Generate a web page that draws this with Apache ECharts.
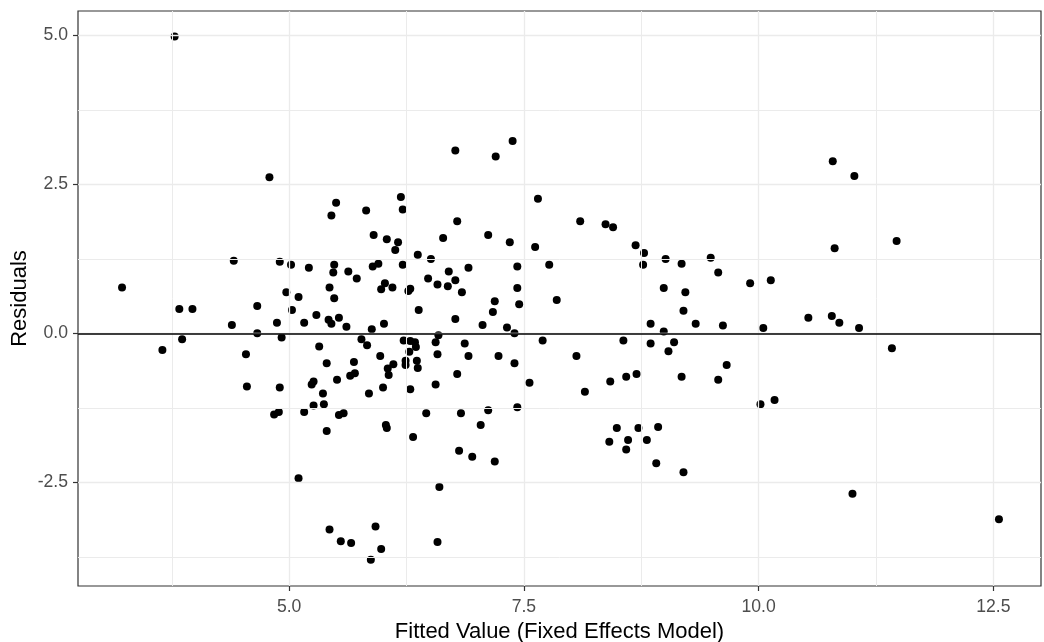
<!DOCTYPE html>
<html>
<head>
<meta charset="utf-8">
<script src="https://cdn.jsdelivr.net/npm/echarts@6/dist/echarts.min.js"></script>
<style>
  html, body { margin: 0; padding: 0; background: #ffffff; }
  #chart { width: 1044px; height: 642px; }
</style>
</head>
<body>
<div id="chart"></div>
<script>
// Fitted values from the fixed effects model and their residuals
const fitted = [
  3.78, 4.79, 4.41, 4.90, 5.02, 3.22, 4.97, 5.10, 3.83, 3.97,
  4.66, 5.03, 4.87, 4.39, 4.66, 4.92, 3.65, 3.86, 4.54, 4.55,
  4.90, 4.84, 4.89, 5.10, 5.50, 5.45, 5.82, 5.90, 6.04, 5.21,
  5.48, 5.47, 5.63, 5.72, 5.89, 5.95, 6.02, 5.98, 5.43, 5.48,
  5.29, 5.42, 5.45, 5.53, 5.61, 5.16, 5.88, 6.01, 5.32, 5.77,
  5.83, 5.40, 5.69, 5.97, 6.05, 6.06, 5.65, 5.70, 5.51, 5.26,
  5.24, 5.36, 5.85, 6.00, 5.26, 5.37, 5.16, 5.53, 5.58, 5.40,
  6.03, 6.04, 5.43, 5.55, 5.66, 5.92, 5.98, 5.87, 6.77, 7.20,
  7.38, 6.19, 6.21, 6.79, 7.65, 6.16, 6.13, 6.64, 7.12, 7.35,
  7.62, 6.37, 6.51, 6.21, 6.70, 6.91, 7.43, 6.48, 6.58, 6.69,
  6.77, 6.84, 6.10, 6.27, 6.29, 7.43, 7.19, 7.17, 7.45, 6.38,
  6.77, 7.06, 7.32, 7.40, 6.59, 6.56, 6.22, 6.29, 6.34, 6.35,
  6.28, 6.58, 6.87, 6.91, 7.23, 7.40, 6.11, 6.24, 6.24, 6.36,
  6.37, 6.79, 6.29, 6.56, 7.56, 6.46, 6.83, 7.12, 7.43, 7.04,
  6.32, 6.81, 6.95, 7.19, 6.60, 6.58, 8.10, 8.37, 8.45, 8.69,
  8.78, 7.77, 8.77, 9.01, 9.18, 9.49, 9.57, 8.99, 9.22, 7.85,
  9.20, 8.85, 9.33, 9.62, 8.99, 7.70, 8.56, 8.85, 9.10, 9.04,
  8.06, 9.66, 8.42, 8.59, 8.70, 9.18, 9.57, 8.15, 8.49, 8.72,
  8.93, 8.41, 8.61, 8.81, 8.59, 8.91, 9.20, 10.79, 11.02, 10.81,
  11.47, 9.91, 10.13, 10.53, 10.78, 10.86, 11.07, 10.05, 11.42, 10.02,
  10.17, 11.00, 12.56
];
const residuals = [
  4.98, 2.62, 1.22, 1.20, 1.15, 0.77, 0.69, 0.61, 0.41, 0.41,
  0.46, 0.39, 0.18, 0.14, 0.00, -0.07, -0.28, -0.10, -0.35, -0.89,
  -0.91, -1.36, -1.32, -2.43, 2.19, 1.98, 2.06, 1.65, 1.58, 1.10,
  1.15, 1.02, 1.04, 0.92, 1.12, 1.17, 0.84, 0.74, 0.77, 0.59,
  0.31, 0.23, 0.16, 0.26, 0.11, 0.18, 0.07, 0.16, -0.22, -0.10,
  -0.20, -0.50, -0.48, -0.38, -0.59, -0.70, -0.71, -0.67, -0.78, -0.81,
  -0.86, -1.01, -1.01, -0.91, -1.21, -1.19, -1.32, -1.37, -1.34, -1.64,
  -1.54, -1.59, -3.29, -3.49, -3.52, -3.24, -3.62, -3.80, 3.07, 2.97,
  3.23, 2.29, 2.08, 1.88, 2.26, 1.53, 1.40, 1.60, 1.65, 1.53,
  1.45, 1.32, 1.25, 1.15, 1.04, 1.10, 1.12, 0.92, 0.82, 0.79,
  0.89, 0.69, 0.77, 0.71, 0.75, 0.76, 0.54, 0.36, 0.49, 0.39,
  0.24, 0.14, 0.10, 0.00, -0.03, -0.15, -0.12, -0.13, -0.15, -0.23,
  -0.31, -0.35, -0.17, -0.38, -0.38, -0.50, -0.52, -0.46, -0.53, -0.46,
  -0.58, -0.68, -0.94, -0.86, -0.83, -1.34, -1.34, -1.29, -1.24, -1.54,
  -1.74, -1.97, -2.07, -2.15, -2.58, -3.50, 1.88, 1.83, 1.78, 1.48,
  1.35, 1.15, 1.15, 1.25, 1.17, 1.27, 1.02, 0.76, 0.69, 0.56,
  0.38, 0.16, 0.16, 0.13, 0.03, -0.12, -0.12, -0.17, -0.15, -0.30,
  -0.38, -0.53, -0.81, -0.73, -0.68, -0.73, -0.78, -0.98, -1.59, -1.59,
  -1.57, -1.82, -1.79, -1.79, -1.95, -2.18, -2.33, 2.89, 2.64, 1.43,
  1.55, 0.84, 0.89, 0.26, 0.29, 0.18, 0.09, 0.09, -0.25, -1.19,
  -1.12, -2.69, -3.12
];

// Axis breaks: labelled majors and unlabelled minors in between
const xTicks = [5, 7.5, 10, 12.5];
const yTicks = [-2.5, 0, 2.5, 5];
const xMinor = [3.75, 6.25, 8.75, 11.25];
const yMinor = [-3.75, -1.25, 1.25, 3.75];
const refLine = [0];

const xLabel = 'Fitted Value (Fixed Effects Model)';
const yLabel = 'Residuals';

const points = fitted.map((f, i) => [f, residuals[i]]);

const FONT = '"Liberation Sans", Arial, sans-serif';
const gridColor = '#EBEBEB';

function gridLines(dim, values, width) {
  return values.map(v => ({
    [dim]: v,
    lineStyle: { color: gridColor, width: width, type: 'solid' }
  }));
}

const chart = echarts.init(document.getElementById('chart'), null, { renderer: 'canvas' });

chart.setOption({
  animation: false,
  backgroundColor: '#ffffff',
  grid: {
    left: 78, right: 3, top: 11, bottom: 56,
    containLabel: false,
    outerBoundsMode: 'none',
    show: true,
    borderColor: '#333333',
    borderWidth: 1.2,
    backgroundColor: 'transparent'
  },
  xAxis: {
    type: 'value',
    min: 2.751,
    max: 13.008,
    name: xLabel,
    nameLocation: 'middle',
    nameGap: 35,
    nameMoveOverlap: false,
    nameTextStyle: { fontSize: 22, color: '#000000', fontFamily: FONT },
    axisLine: { show: false, onZero: false },
    axisTick: {
      show: true, customValues: xTicks, length: 5, inside: false,
      lineStyle: { color: '#333333', width: 1.2 }
    },
    axisLabel: {
      customValues: xTicks, margin: 12,
      color: '#4D4D4D', fontSize: 17.6, fontFamily: FONT,
      formatter: v => Number(v).toFixed(1)
    },
    splitLine: { show: false },
    minorSplitLine: { show: false }
  },
  yAxis: {
    type: 'value',
    min: -4.24,
    max: 5.41,
    name: yLabel,
    nameLocation: 'middle',
    nameGap: 47,
    nameRotate: 90,
    nameMoveOverlap: false,
    nameTextStyle: { fontSize: 22, color: '#000000', fontFamily: FONT },
    axisLine: { show: false, onZero: false },
    axisTick: {
      show: true, customValues: yTicks, length: 5, inside: false,
      lineStyle: { color: '#333333', width: 1.2 }
    },
    axisLabel: {
      customValues: yTicks, margin: 10,
      color: '#4D4D4D', fontSize: 17.6, fontFamily: FONT,
      formatter: v => Number(v).toFixed(1)
    },
    splitLine: { show: false },
    minorSplitLine: { show: false }
  },
  series: [
    {
      // panel grid: minor then major lines
      type: 'scatter',
      data: [],
      z: 1,
      silent: true,
      markLine: {
        silent: true,
        symbol: ['none', 'none'],
        label: { show: false },
        emphasis: { disabled: true },
        animation: false,
        data: [
          ...gridLines('xAxis', xMinor, 1),
          ...gridLines('yAxis', yMinor, 1),
          ...gridLines('xAxis', xTicks, 1.3),
          ...gridLines('yAxis', yTicks, 1.3)
        ]
      }
    },
    {
      type: 'scatter',
      data: points,
      z: 3,
      symbol: 'circle',
      symbolSize: 8,
      itemStyle: { color: '#000000', opacity: 1 },
      emphasis: { disabled: true },
      markLine: {
        silent: true,
        symbol: ['none', 'none'],
        label: { show: false },
        emphasis: { disabled: true },
        animation: false,
        lineStyle: { color: '#000000', width: 1.5, type: 'solid' },
        data: refLine.map(v => ({ yAxis: v }))
      }
    }
  ]
});
</script>
</body>
</html>
